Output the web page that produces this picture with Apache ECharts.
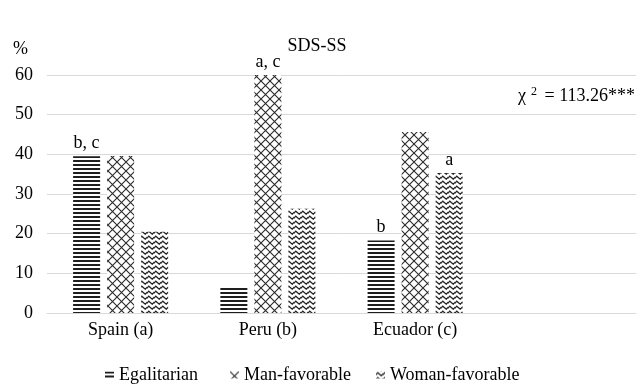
<!DOCTYPE html>
<html>
<head>
<meta charset="utf-8">
<script src="https://cdn.jsdelivr.net/npm/echarts@6/dist/echarts.min.js"></script>
<style>html,body{margin:0;padding:0;background:#fff;}#c{width:636px;height:384px;}</style>
</head>
<body>
<div id="c"></div>
<script>
var categories = ['Spain (a)', 'Peru (b)', 'Ecuador (c)', ''];
var seriesNames = ['Egalitarian', 'Man-favorable', 'Woman-favorable'];
var egalitarian = [39.5, 6.8, 18.3, null];
var manFavorable = [39.6, 60.1, 45.6, null];
var womanFavorable = [20.5, 26.3, 35.3, null];
var egalitarianLabels = ['b, c', '', 'b', ''];
var manLabels = ['', 'a, c', '', ''];
var womanLabels = ['', '', 'a', ''];
var yTicks = [0, 10, 20, 30, 40, 50, 60];

function makeCanvas(w, h, draw) {
  var c = document.createElement('canvas');
  c.width = w; c.height = h;
  var ctx = c.getContext('2d');
  ctx.fillStyle = '#fff';
  ctx.fillRect(0, 0, w, h);
  draw(ctx);
  return c;
}
var hLines = makeCanvas(8, 4, function (ctx) {
  ctx.fillStyle = '#1e1e1e';
  ctx.fillRect(0, 0, 8, 2);
});
var cross = makeCanvas(9, 9, function (ctx) {
  ctx.strokeStyle = '#2a2a2a';
  ctx.lineWidth = 1.1;
  ctx.beginPath();
  ctx.moveTo(-1, -1); ctx.lineTo(10, 10);
  ctx.moveTo(10, -1); ctx.lineTo(-1, 10);
  ctx.stroke();
});
var wave = makeCanvas(7, 5, function (ctx) {
  ctx.strokeStyle = '#222';
  ctx.lineWidth = 1.2;
  ctx.beginPath();
  ctx.moveTo(-1, 4.2);
  ctx.lineTo(1.75, 1.2);
  ctx.lineTo(5.25, 4.2);
  ctx.lineTo(8, 1.2);
  ctx.stroke();
});
var patterns = [hLines, cross, wave];
var values = [egalitarian, manFavorable, womanFavorable];
var labels = [egalitarianLabels, manLabels, womanLabels];

var font = '"Liberation Serif", "Times New Roman", serif';
var chart = echarts.init(document.getElementById('c'), null, {renderer: 'canvas'});

var series = seriesNames.map(function (name, i) {
  return {
    name: name,
    type: 'bar',
    data: values[i],
    barWidth: 27,
    barGap: '26%',
    itemStyle: {color: {image: patterns[i], repeat: 'repeat'}},
    label: {
      show: true,
      position: 'top',
      distance: 4,
      color: '#000',
      fontFamily: font,
      fontSize: 18,
      formatter: function (p) { return labels[i][p.dataIndex]; }
    },
    emphasis: {disabled: true}
  };
});

var legendLefts = [100, 225, 371];
var legends = seriesNames.map(function (name, i) {
  return {
    data: [name],
    left: legendLefts[i],
    top: 361,
    itemWidth: 9,
    itemHeight: 7,
    itemGap: 6,
    icon: 'rect',
    textStyle: {fontFamily: font, fontSize: 18, color: '#000'},
    selectedMode: false
  };
});

chart.setOption({
  animation: false,
  backgroundColor: '#fff',
  textStyle: {fontFamily: font},
  title: {
    text: 'SDS-SS',
    left: 312,
    textAlign: 'center',
    top: 32,
    textStyle: {fontFamily: font, fontSize: 18, fontWeight: 'normal', color: '#000'}
  },
  legend: legends,
  grid: {left: 47, right: 0, top: 75, bottom: 71},
  xAxis: {
    type: 'category',
    data: categories,
    axisLine: {lineStyle: {color: '#d9d9d9', width: 1}},
    axisTick: {show: false},
    axisLabel: {color: '#000', fontFamily: font, fontSize: 18, margin: 8}
  },
  yAxis: {
    type: 'value',
    min: yTicks[0],
    max: yTicks[yTicks.length - 1],
    interval: yTicks[1] - yTicks[0],
    axisLine: {show: false},
    axisTick: {show: false},
    axisLabel: {color: '#000', fontFamily: font, fontSize: 18, margin: 14},
    splitLine: {lineStyle: {color: '#d9d9d9', width: 1}}
  },
  graphic: [
    {type: 'text', left: 13, top: 40, style: {text: '%', font: '18px ' + font, fill: '#000'}},
    {type: 'text', left: 518, top: 86, style: {
      text: 'χ{s|2} = 113.26***',
      font: '18px ' + font, fill: '#000',
      rich: {s: {fontFamily: font, fontSize: 12, verticalAlign: 'top', padding: [0, 3, 8, 5], fill: '#000'}}
    }}
  ],
  series: series
});
</script>
</body>
</html>
